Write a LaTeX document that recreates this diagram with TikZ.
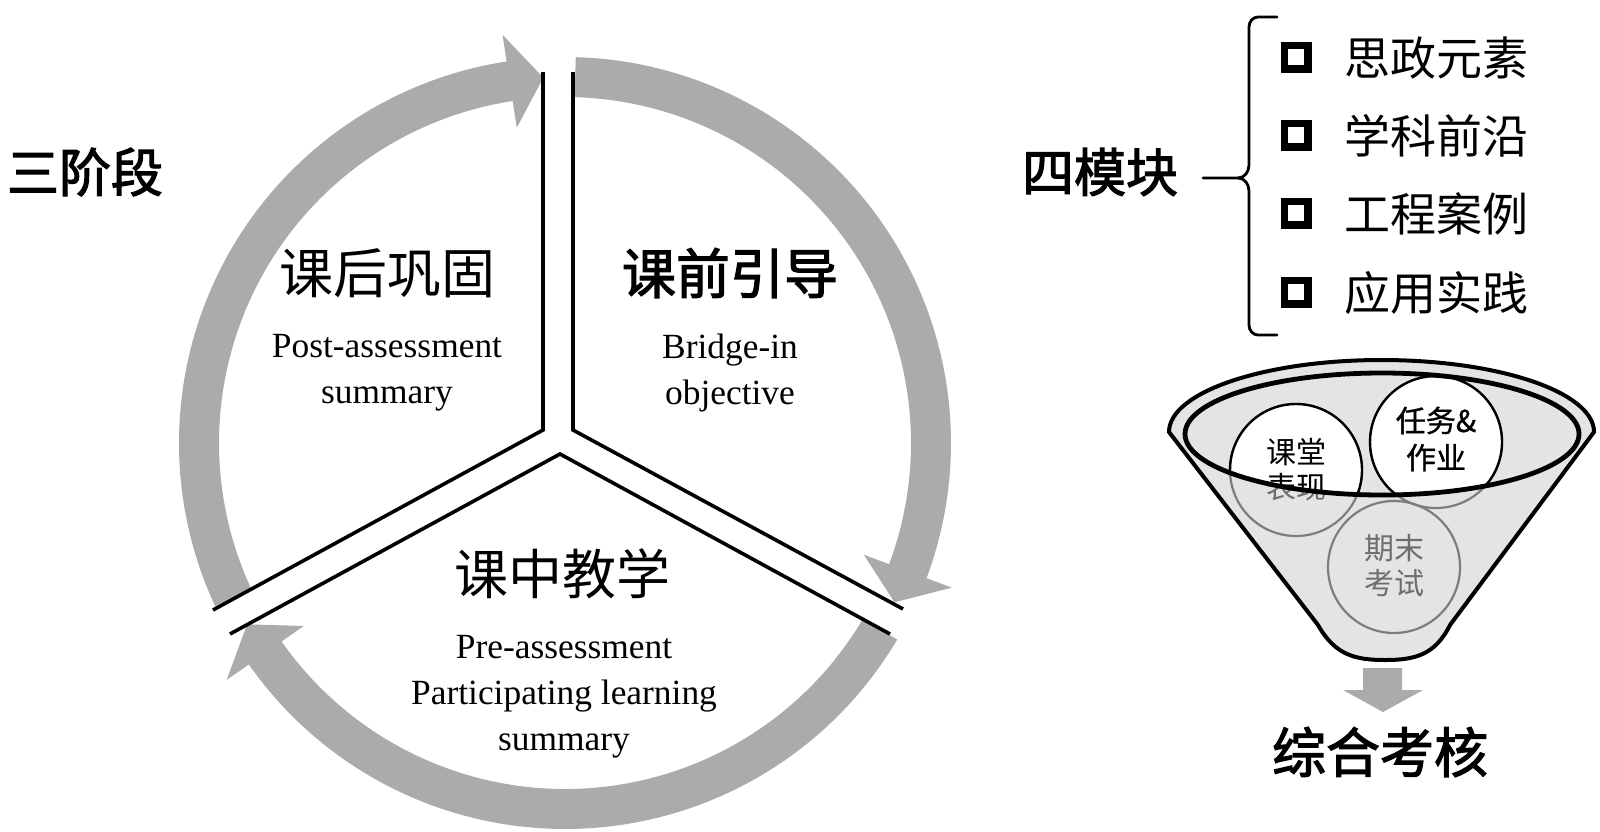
\documentclass[tikz,border=0pt]{standalone}
\usepackage{fontspec}
\setmainfont{Liberation Serif}
\newfontfamily\cjk{Noto Sans CJK SC}
\newfontfamily\cjkb{Noto Sans CJK SC}[FakeBold=2.2]
\newfontfamily\cjkm{Noto Sans CJK SC}[FakeBold=1]
\usetikzlibrary{calc}
\definecolor{arrowgray}{RGB}{171,171,171}
\definecolor{funfill}{RGB}{228,228,228}
\definecolor{dimline}{RGB}{125,125,125}
\definecolor{dimtext}{RGB}{110,110,110}
\def\rOut{386}
\def\rIn{346}
\def\rMid{366}
\def\rHi{413}
\def\rLo{319}
\newcommand{\ringarrow}[3]{%
  \fill[arrowgray] ($(C)+(#1:\rOut)$) arc[start angle=#1,end angle=#2,radius=\rOut]
    -- ($(C)+(#2:\rHi)$) -- ($(C)+(#3:\rMid)$) -- ($(C)+(#2:\rLo)$)
    -- ($(C)+(#2:\rIn)$) arc[start angle=#2,end angle=#1,radius=\rIn] -- cycle;}
\tikzset{
  split/.style={line width=1.8pt, line join=miter},
  stitle/.style={font=\cjk\fontsize{27}{30}\selectfont, inner sep=0pt},
  stitleb/.style={font=\cjkb\fontsize{27}{30}\selectfont, inner sep=0pt},
  bigb/.style={font=\cjkb\fontsize{26}{30}\selectfont, inner sep=0pt},
  entext/.style={font=\fontsize{17.7}{23}\selectfont, align=center, inner sep=0pt},
  item/.style={font=\cjk\fontsize{23}{26}\selectfont, anchor=west, inner sep=0pt},
  chk/.style={draw, line width=3.8pt, minimum size=11.7pt, inner sep=0pt},
  circtext/.style={font=\cjk\fontsize{15}{17.5}\selectfont, align=center, inner sep=0pt},
  circtextb/.style={font=\cjkm\fontsize{15}{18.5}\selectfont, align=center, inner sep=0pt},
  brace/.style={line width=1.4pt, line cap=round},
  funline/.style={line width=2pt},
}
\begin{document}
\begin{tikzpicture}[x=0.5pt,y=0.5pt]
\useasboundingbox (0,0) rectangle (1600,-831);
\coordinate (C) at (565,-443);

% ring arrows
\ringarrow{205}{98.7}{93.4}
\ringarrow{88.4}{-20.5}{-25.8}
\ringarrow{-30.6}{-145}{-150.3}

% dividing lines
\coordinate (s1a) at (543,-72);
\coordinate (s1b) at (543,-430);
\coordinate (s1c) at (213,-610);
\coordinate (s2a) at (573,-72);
\coordinate (s2b) at (573,-430);
\coordinate (s2c) at (903,-609);
\coordinate (s3a) at (230,-634);
\coordinate (s3b) at (560,-454);
\coordinate (s3c) at (890,-634);
\draw[split] (s1a) -- (s1b) -- (s1c);
\draw[split] (s2a) -- (s2b) -- (s2c);
\draw[split] (s3a) -- (s3b) -- (s3c);

% stage texts
\node[bigb] (three) at (85,-172) {三阶段};
\node[stitle] (post) at (387,-273) {课后巩固};
\node[entext] (postE) at (387,-373) {Post-assessment\\summary};
\node[stitleb] (pre) at (730,-273) {课前引导};
\node[entext] (preE) at (730,-373) {Bridge-in\\objective};
\node[stitle] (mid) at (562,-574) {课中教学};
\node[entext] (midE) at (564,-697) {Pre-assessment\\Participating learning\\summary};

% four modules
\node[bigb] (four) at (1100,-172) {四模块};
\coordinate (bt) at (1203,-178);
\draw[brace] (1277,-17) -- (1258,-17) to[out=180,in=90] (1249,-27) -- (1249,-165)
  to[out=-90,in=0] (1238,-178) -- (bt);
\draw[brace] (1238,-178) to[out=0,in=90] (1249,-191) -- (1249,-325)
  to[out=-90,in=180] (1258,-335) -- (1277,-335);
\node[chk] (b1) at (1296,-57) {};
\node[chk] (b2) at (1296,-135) {};
\node[chk] (b3) at (1296,-213) {};
\node[chk] (b4) at (1296,-292) {};
\node[item] (i1) at (1344,-58) {思政元素};
\node[item] (i2) at (1344,-136) {学科前沿};
\node[item] (i3) at (1344,-214) {工程案例};
\node[item] (i4) at (1344,-293) {应用实践};

% funnel
\fill[funfill] (1169,-432) arc[start angle=180,end angle=0,x radius=212.5,y radius=72]
  -- (1450,-625) .. controls (1435,-655) and (1415,-660) .. (1385,-660)
  .. controls (1355,-660) and (1335,-655) .. (1318,-625) -- cycle;
\draw[funline] (1169,-432) arc[start angle=180,end angle=0,x radius=212.5,y radius=72]
  -- (1450,-625) .. controls (1435,-655) and (1415,-660) .. (1385,-660)
  .. controls (1355,-660) and (1335,-655) .. (1318,-625) -- cycle;
% hidden (grey) layer of circles
\draw[dimline, line width=1.1pt] (1296,-470) circle[radius=66];
\draw[dimline, line width=1.1pt] (1436,-442) circle[radius=66];
\draw[dimline, line width=1.1pt] (1394,-567) circle[radius=66];
\node[circtext, text=dimtext] (t1g) at (1296,-470) {课堂\\表现};
\node[circtextb, text=dimtext] (t2g) at (1436,-439) {任务\&\\作业};
\node[circtext, text=dimtext] (t3) at (1394,-566) {期末\\考试};
% visible part inside the opening
\begin{scope}
  \clip (1382,-434) ellipse[x radius=197,y radius=61];
  \draw[fill=white, line width=1.2pt] (1296,-470) circle[radius=66];
  \draw[fill=white, line width=1.2pt] (1436,-442) circle[radius=66];
  \node[circtext] (t1) at (1296,-470) {课堂\\表现};
  \node[circtextb] (t2) at (1436,-439) {任务\&\\作业};
\end{scope}
\draw[line width=2.4pt] (1382,-434) ellipse[x radius=197,y radius=61];

% down arrow
\fill[arrowgray] (1363,-668) -- (1402,-668) -- (1402,-690) -- (1423,-690) -- (1383,-712)
  -- (1343,-690) -- (1363,-690) -- cycle;
\node[bigb, font=\cjkb\fontsize{27}{30}\selectfont] (total) at (1380,-752) {综合考核};
\end{tikzpicture}
\end{document}
